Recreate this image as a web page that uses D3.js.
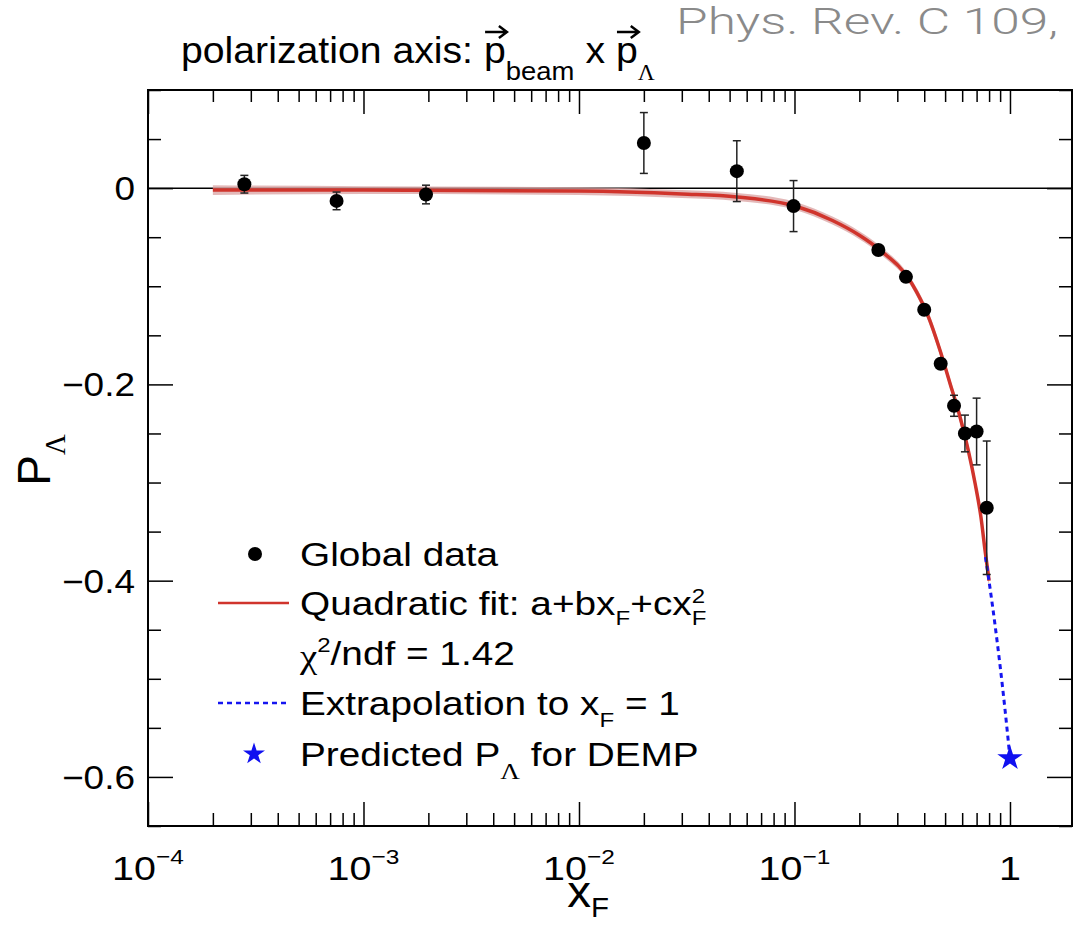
<!DOCTYPE html>
<html>
<head>
<meta charset="utf-8">
<script src="https://cdn.jsdelivr.net/npm/d3@7"></script>
<style>
body { margin: 0; background: #fff; }
text { font-family: "Liberation Sans", Arial, Helvetica, sans-serif; fill: #000; white-space: pre; }
</style>
</head>
<body>
<div id="chart"></div>
<script>
// measured points (x_F, P_Lambda, stat error)
var xVals = [2.8e-4, 7.5e-4, 1.95e-3, 0.020, 0.054, 0.099, 0.245, 0.329, 0.40, 0.477, 0.55, 0.618, 0.70, 0.78];
var yVals = [0.004, -0.013, -0.0065, 0.046, 0.0173, -0.0183, -0.063, -0.0904, -0.124, -0.179, -0.2218, -0.250, -0.248, -0.3257];
var yErrs = [0.009, 0.009, 0.0095, 0.031, 0.031, 0.026, 0.003, 0.003, 0.004, 0.004, 0.0107, 0.0187, 0.034, 0.068];

// quadratic fit curve, with its error band
var fitX = [2e-4, 1e-3, 0.01, 0.03, 0.054, 0.1, 0.15, 0.2, 0.249, 0.35, 0.418, 0.473, 0.527, 0.586, 0.640, 0.689, 0.733, 0.766, 0.80];
var fitY = [-0.002, -0.002, -0.003, -0.006, -0.009, -0.018, -0.033, -0.048, -0.063, -0.097, -0.131, -0.165, -0.199, -0.233, -0.267, -0.301, -0.335, -0.369, -0.40];
var fitErr = [0.005, 0.004, 0.004, 0.004, 0.004, 0.004, 0.004, 0.004, 0.004, 0.004, 0.005, 0.005, 0.005, 0.006, 0.006, 0.006, 0.007, 0.007, 0.008];

// extrapolation to x_F = 1 and the predicted value
var extX = [0.77, 0.85, 0.90, 0.95, 1.0];
var extY = [-0.376, -0.443, -0.487, -0.533, -0.581];
var predX = [1.0];
var predY = [-0.581];

var xMajor = [1e-4, 1e-3, 1e-2, 1e-1, 1];
var xMajorBase = ["10", "10", "10", "10", "1"];
var xMajorExp = ["\u22124", "\u22123", "\u22122", "\u22121", ""];
var yMajor = [0, -0.2, -0.4, -0.6];
var yMajorLabels = ["0", "\u22120.2", "\u22120.4", "\u22120.6"];

var width = 1074, height = 926;
var padL = 148, padR = 1072, padT = 90, padB = 826;
var sx = 1.14; // the picture's lettering is a little wider than Arial

var svg = d3.select("#chart").append("svg")
	.attr("width", width)
	.attr("height", height);

var x = d3.scaleLog().domain([1e-4, 1.94]).range([padL, padR]);
var y = d3.scaleLinear().domain([-0.65, 0.1]).range([padB, padT]);

// helper: text made of pieces (sub/superscripts), pieces laid out one after the other
function rich(g, px, py, parts, size, anchor, stretch) {
	var k = stretch || 1;
	var grp = g.append("g");
	var cx = 0, boxes = [];
	parts.forEach(function(p) {
		var fs = size * (p.s || 1);
		var t = grp.append("text")
			.attr("x", cx + (p.dx || 0))
			.attr("y", p.dy || 0)
			.style("font-size", fs + "px")
			.text(p.t);
		if (p.f) t.style("font-family", p.f);
		var w = t.node().getComputedTextLength();
		boxes.push({x: cx + (p.dx || 0), w: w});
		if (!p.noadv) cx += w + (p.dx || 0);
	});
	var off = anchor === "middle" ? -cx / 2 : anchor === "end" ? -cx : 0;
	grp.attr("transform", "translate(" + (px + off * k) + "," + py + ") scale(" + k + ",1)");
	return {g: grp, boxes: boxes, width: cx, off: off * k, k: k};
}

// axes ticks (inside the frame, on all four sides)
var xMinor = x.ticks().filter(function(d) { return xMajor.indexOf(d) < 0; });
var yMinor = y.ticks(15).filter(function(d) {
	return yMajor.every(function(m) { return Math.abs(m - d) > 1e-9; });
});

function styleAxis(sel) {
	sel.select(".domain").remove();
	sel.selectAll(".tick line").attr("stroke", "#000").attr("stroke-width", 1.5);
	sel.selectAll(".tick text").remove();
}

svg.append("g").attr("transform", "translate(0," + padB + ")")
	.call(d3.axisBottom(x).tickValues(xMinor).tickSize(-13).tickFormat("")).call(styleAxis);
svg.append("g").attr("transform", "translate(0," + padB + ")")
	.call(d3.axisBottom(x).tickValues(xMajor).tickSize(-24).tickFormat("")).call(styleAxis);
svg.append("g").attr("transform", "translate(0," + padT + ")")
	.call(d3.axisTop(x).tickValues(xMinor).tickSize(-12).tickFormat("")).call(styleAxis);
svg.append("g").attr("transform", "translate(0," + padT + ")")
	.call(d3.axisTop(x).tickValues(xMajor).tickSize(-24).tickFormat("")).call(styleAxis);
svg.append("g").attr("transform", "translate(" + padL + ",0)")
	.call(d3.axisLeft(y).tickValues(yMinor).tickSize(-13).tickFormat("")).call(styleAxis);
svg.append("g").attr("transform", "translate(" + padL + ",0)")
	.call(d3.axisLeft(y).tickValues(yMajor).tickSize(-25).tickFormat("")).call(styleAxis);
svg.append("g").attr("transform", "translate(" + padR + ",0)")
	.call(d3.axisRight(y).tickValues(yMinor).tickSize(-13).tickFormat("")).call(styleAxis);
svg.append("g").attr("transform", "translate(" + padR + ",0)")
	.call(d3.axisRight(y).tickValues(yMajor).tickSize(-25).tickFormat("")).call(styleAxis);

// frame
svg.append("rect")
	.attr("x", padL).attr("y", padT)
	.attr("width", padR - padL).attr("height", padB - padT)
	.attr("fill", "none").attr("stroke", "#000").attr("stroke-width", 2);

// y tick labels
yMajor.forEach(function(v, i) {
	rich(svg, 135, y(v) + 12, [{t: yMajorLabels[i]}], 33, "end", 1.12);
});

// x tick labels 10^n
xMajor.forEach(function(v, i) {
	var parts = [{t: xMajorBase[i]}];
	if (xMajorExp[i]) parts.push({t: xMajorExp[i], s: 0.62, dy: -16});
	rich(svg, x(v), 880, parts, 34, "middle", 1.16);
});

// zero line
svg.append("line")
	.attr("x1", padL).attr("x2", padR)
	.attr("y1", y(0)).attr("y2", y(0))
	.attr("stroke", "#000").attr("stroke-width", 1.5);

// fit band + fit line
var fitPts = fitX.map(function(d, i) { return {x: d, y: fitY[i], e: fitErr[i]}; });
svg.append("path").datum(fitPts)
	.attr("fill", "#d9a2a2").attr("opacity", 0.75)
	.attr("d", d3.area()
		.x(function(d) { return x(d.x); })
		.y0(function(d) { return y(d.y - d.e); })
		.y1(function(d) { return y(d.y + d.e); })
		.curve(d3.curveMonotoneX));
svg.append("path").datum(fitPts)
	.attr("fill", "none").attr("stroke", "#d0342c").attr("stroke-width", 3.5)
	.attr("d", d3.line()
		.x(function(d) { return x(d.x); })
		.y(function(d) { return y(d.y); })
		.curve(d3.curveMonotoneX));

// extrapolation
var extPts = extX.map(function(d, i) { return {x: d, y: extY[i]}; });
svg.append("path").datum(extPts)
	.attr("fill", "none").attr("stroke", "#1515f0").attr("stroke-width", 3)
	.attr("stroke-dasharray", "5,4")
	.attr("d", d3.line()
		.x(function(d) { return x(d.x); })
		.y(function(d) { return y(d.y); })
		.curve(d3.curveMonotoneX));

// data points with error bars
var pts = xVals.map(function(d, i) { return {x: d, y: yVals[i], e: yErrs[i]}; });
var pg = svg.append("g").selectAll("g").data(pts).enter().append("g");
pg.append("line")
	.attr("x1", function(d) { return x(d.x); }).attr("x2", function(d) { return x(d.x); })
	.attr("y1", function(d) { return y(d.y + d.e); }).attr("y2", function(d) { return y(d.y - d.e); })
	.attr("stroke", "#222").attr("stroke-width", 1.5);
[1, -1].forEach(function(s) {
	pg.append("line")
		.attr("x1", function(d) { return x(d.x) - 4; }).attr("x2", function(d) { return x(d.x) + 4; })
		.attr("y1", function(d) { return y(d.y + s * d.e); }).attr("y2", function(d) { return y(d.y + s * d.e); })
		.attr("stroke", "#222").attr("stroke-width", 1.5);
});
pg.append("circle")
	.attr("cx", function(d) { return x(d.x); })
	.attr("cy", function(d) { return y(d.y); })
	.attr("r", 7).attr("fill", "#000");

// predicted value (star)
svg.selectAll(".pred").data(predX).enter().append("path")
	.attr("class", "pred")
	.attr("transform", function(d, i) { return "translate(" + x(d) + "," + y(predY[i]) + ")"; })
	.attr("d", d3.symbol(d3.symbolStar).size(200))
	.attr("fill", "#1010f0");

// legend
var lg = svg.append("g");
var rowY = [554, 603, 653, 703, 754];
lg.append("circle").attr("cx", 255).attr("cy", rowY[0]).attr("r", 7).attr("fill", "#000");
lg.append("line").attr("x1", 218).attr("x2", 289).attr("y1", rowY[1]).attr("y2", rowY[1])
	.attr("stroke", "#d0342c").attr("stroke-width", 2.5);
lg.append("line").attr("x1", 218).attr("x2", 289).attr("y1", rowY[3]).attr("y2", rowY[3])
	.attr("stroke", "#1515f0").attr("stroke-width", 2.5).attr("stroke-dasharray", "5,4");
lg.append("path").attr("transform", "translate(254," + rowY[4] + ")")
	.attr("d", d3.symbol(d3.symbolStar).size(150)).attr("fill", "#1010f0");

var lf = 34, lx = 300;
rich(lg, lx, rowY[0] + 12, [{t: "Global data"}], lf, "start", sx);
rich(lg, lx, rowY[1] + 12, [
	{t: "Quadratic fit: a+bx"}, {t: "F", s: 0.62, dy: 10}, {t: "+cx"},
	{t: "F", s: 0.62, dy: 10, noadv: true}, {t: "2", s: 0.62, dy: -12}
], lf, "start", sx);
rich(lg, lx, rowY[2] + 12, [
	{t: "\u03c7", f: "'Liberation Serif', serif", dy: 3}, {t: "2", s: 0.62, dy: -13}, {t: "/ndf = 1.42"}
], lf, "start", sx);
rich(lg, lx, rowY[3] + 12, [
	{t: "Extrapolation to x"}, {t: "F", s: 0.62, dy: 12}, {t: " = 1"}
], lf, "start", sx);
rich(lg, lx, rowY[4] + 12, [
	{t: "Predicted P"}, {t: "\u039b", s: 0.7, dy: 13, f: "'Liberation Serif', serif"}, {t: " for DEMP"}
], lf, "start", sx);

// title with vector arrows over the p's
var tt = rich(svg, 181, 63, [
	{t: "polarization axis: "}, {t: "p"}, {t: "beam", s: 0.7, dy: 17}, {t: " x "}, {t: "p"},
	{t: "\u039b", s: 0.6, dy: 17, f: "'Liberation Serif', serif"}
], 37, "start", 1.06);
[1, 4].forEach(function(k) {
	var b = tt.boxes[k];
	var x0 = 181 + tt.off + (b.x + 1) * tt.k, x1 = x0 + b.w * tt.k;
	svg.append("path")
		.attr("d", "M" + x0 + ",32H" + (x1 - 1) + "M" + (x1 - 8) + ",26L" + x1 + ",32L" + (x1 - 8) + ",38")
		.attr("fill", "none").attr("stroke", "#000").attr("stroke-width", 2.5);
});

// journal reference (grey, top right)
svg.append("text")
	.attr("x", 676).attr("y", 34)
	.attr("textLength", 382).attr("lengthAdjust", "spacingAndGlyphs")
	.style("font-family", "Roboto, 'Liberation Sans', sans-serif")
	.style("font-weight", 300)
	.style("font-size", "36px").style("fill", "#8a8a8a")
	.text("Phys. Rev. C 109,");

// axis titles
rich(svg, 588, 907, [{t: "x"}, {t: "F", s: 0.62, dy: 10}], 44, "middle", 1.08);
var yl = svg.append("g").attr("transform", "translate(50,460) rotate(-90)");
rich(yl, 0, 0, [{t: "P"}, {t: "\u039b", s: 0.62, dy: 15, f: "'Liberation Serif', serif"}], 46, "middle");
</script>
</body>
</html>
